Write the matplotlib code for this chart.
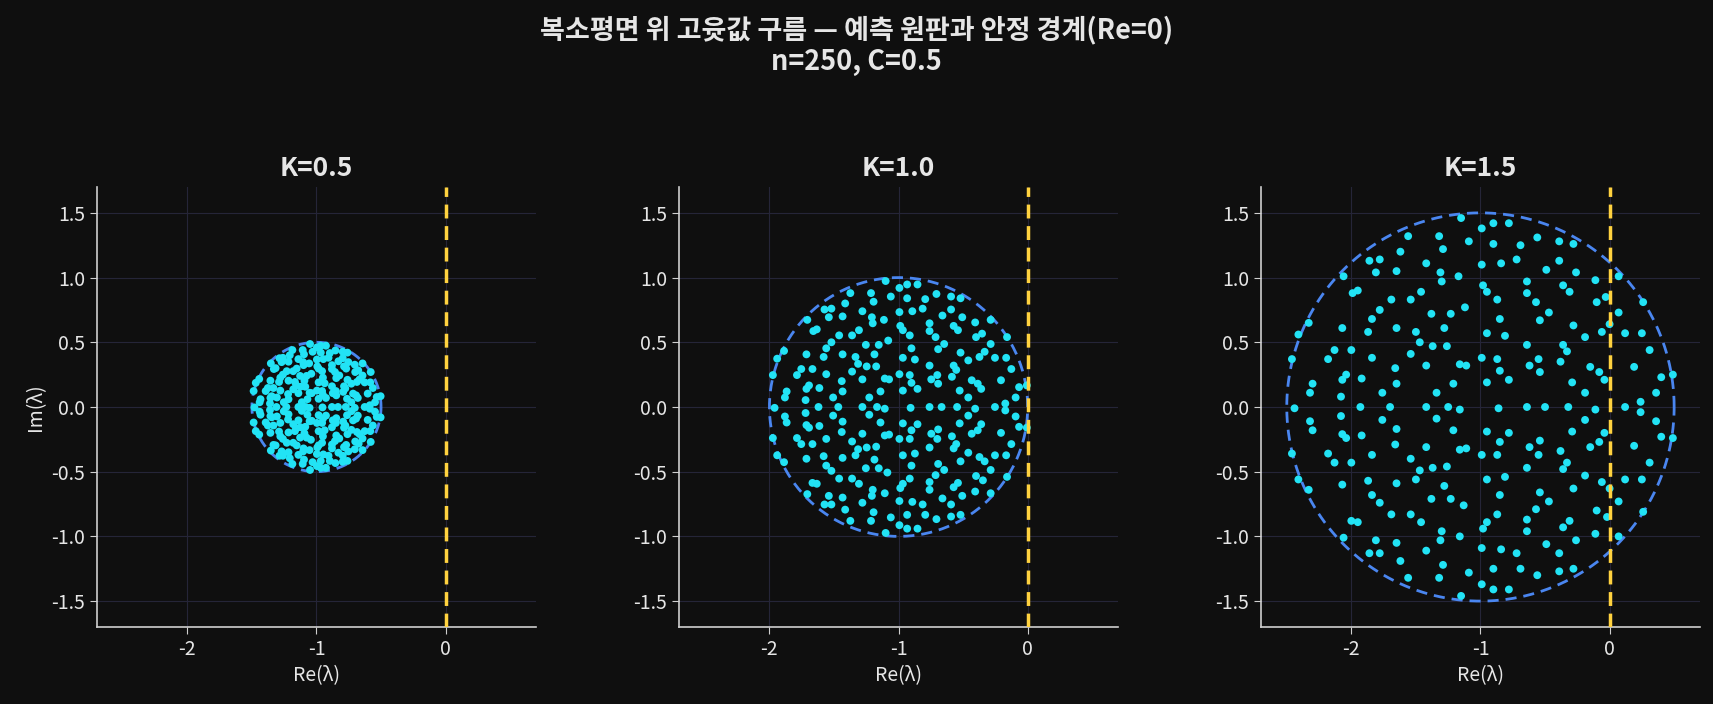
import numpy as np
import matplotlib
matplotlib.use("Agg")
import matplotlib.pyplot as plt

plt.rcParams['font.family'] = ['Noto Sans CJK KR', 'DejaVu Sans']
plt.rcParams['axes.unicode_minus'] = False

# Eigenvalues as read from the K=1.5 panel (same cloud, scaled by K around -1)
re_k15 = [
 -1.15,-1.56,-1.32,-1.09,-1.29,-1.62,-1.86,-1.78,-1.42,-1.81,-1.65,-2.06,-1.31,-1.17,-1.30,-1.99,-1.95,-1.46,
 -1.69,-1.54,-1.78,-1.12,-1.38,-1.23,-2.33,-1.84,-2.41,-2.07,-1.87,-1.65,-1.50,-1.28,-1.47,-1.37,-1.26,-2.13,
 -2.00,-2.46,-2.18,-1.84,-1.54,-1.66,-1.42,-1.16,-1.11,-2.04,-2.07,-1.92,-2.30,-2.32,-1.65,-1.21,-1.76,-1.34,-2.08,
 -0.90,-0.78,-0.99,-0.56,-0.39,-0.28,-0.90,-0.69,-0.99,-0.84,-0.72,-0.39,-0.49,-0.26,0.07,-0.11,-0.98,-0.95,
 -0.64,-0.64,-0.36,-0.31,-0.87,-0.57,-0.10,-0.03,0.26,-0.47,-0.54,-0.85,0.07,-0.28,0.00,-0.06,-0.95,-0.81,
 -0.19,0.12,0.25,-0.64,-0.36,-0.33,0.31,-0.99,-0.87,-0.55,-0.38,-0.62,-0.85,-0.54,-0.15,-0.08,0.19,-0.04,
 -0.95,-0.78,-0.29,0.40,0.49,0.36,-0.19,0.24,
 -2.44,-1.93,-1.70,-1.42,-1.25,-1.16,-2.08,-2.32,-1.76,-1.34,-2.30,-1.65,-1.21,-2.07,-2.04,-1.92,-1.66,-1.42,
 -1.16,-1.11,-2.46,-2.18,-1.84,-2.13,-2.00,-1.54,-1.47,-1.37,-1.26,-2.41,-2.33,-2.07,-1.87,-1.65,-1.50,-1.28,
 -1.84,-1.78,-1.38,-1.23,-1.13,-1.69,-1.54,-1.46,-2.00,-1.95,-2.06,-1.30,-1.16,-1.81,-1.65,-1.31,-1.86,-1.78,
 -1.42,-1.62,-1.29,-1.09,-1.56,-1.32,-1.15,
 -0.86,-0.64,-0.50,-0.32,-0.11,0.12,0.24,-0.19,0.36,-0.95,-0.78,-0.29,-0.85,-0.54,-0.62,-0.08,-0.15,-0.04,
 0.40,0.49,0.19,-0.99,-0.87,-0.55,-0.38,-0.33,-0.36,-0.64,0.31,-0.95,-0.81,-0.19,-0.06,0.00,0.12,0.25,-0.28,
 -0.85,-0.54,-0.47,0.07,-0.57,-0.87,-0.10,-0.02,0.26,-0.95,-0.98,-0.64,-0.31,-0.36,-0.64,-0.11,0.07,-0.99,
 -0.84,-0.72,-0.49,-0.39,-0.26,-0.90,-0.69,-0.56,-0.39,-0.28,-0.99,-0.90,-0.78]
im_k15 = [
 1.46,1.32,1.32,1.28,1.22,1.20,1.13,1.14,1.11,1.04,1.05,1.01,1.04,1.01,0.97,0.88,0.90,0.89,
 0.83,0.83,0.75,0.77,0.72,0.72,0.65,0.68,0.56,0.61,0.58,0.61,0.58,0.61,0.50,0.47,0.47,0.44,
 0.44,0.37,0.37,0.38,0.41,0.30,0.32,0.33,0.32,0.25,0.21,0.22,0.18,0.11,0.18,0.18,0.11,0.11,0.08,
 1.42,1.42,1.38,1.31,1.28,1.26,1.26,1.25,1.10,1.11,1.14,1.13,1.06,1.04,1.01,0.98,0.94,0.89,
 0.97,0.88,0.94,0.89,0.83,0.81,0.81,0.85,0.81,0.73,0.67,0.68,0.73,0.63,0.64,0.58,0.57,0.55,
 0.54,0.57,0.57,0.48,0.48,0.43,0.44,0.38,0.37,0.37,0.35,0.32,0.28,0.27,0.31,0.27,0.31,0.21,
 0.19,0.21,0.19,0.23,0.25,0.11,0.11,0.04,
 -0.01,0.00,0.00,0.00,0.00,-0.02,-0.07,-0.11,-0.10,-0.09,-0.18,-0.17,-0.18,-0.21,-0.24,-0.22,-0.29,-0.31,
 -0.33,-0.32,-0.36,-0.36,-0.37,-0.43,-0.43,-0.40,-0.49,-0.47,-0.46,-0.56,-0.64,-0.60,-0.57,-0.59,-0.56,-0.61,
 -0.68,-0.74,-0.71,-0.71,-0.76,-0.83,-0.83,-0.89,-0.88,-0.89,-1.01,-0.96,-1.00,-1.03,-1.05,-1.03,-1.13,-1.13,
 -1.11,-1.19,-1.22,-1.28,-1.32,-1.32,-1.46,
 -0.01,0.00,0.00,0.00,-0.02,0.00,-0.04,-0.10,-0.11,-0.19,-0.20,-0.19,-0.27,-0.26,-0.31,-0.27,-0.31,-0.20,
 -0.23,-0.24,-0.30,-0.37,-0.37,-0.37,-0.34,-0.43,-0.48,-0.47,-0.43,-0.56,-0.54,-0.53,-0.58,-0.63,-0.56,-0.56,-0.63,
 -0.68,-0.66,-0.73,-0.73,-0.79,-0.83,-0.80,-0.85,-0.81,-0.89,-0.94,-0.87,-0.88,-0.93,-0.96,-0.98,-1.00,-1.09,
 -1.10,-1.13,-1.06,-1.13,-1.03,-1.25,-1.25,-1.30,-1.27,-1.25,-1.37,-1.41,-1.41]

K_values = [0.5, 1.0, 1.5]
center = -1.0
K_ref = 1.5

BG = '#0f0f0f'
TXT = '#e6e6e6'
fig = plt.figure(figsize=(17.13, 7.04), dpi=100, facecolor=BG)

re_arr = np.array(re_k15)
im_arr = np.array(im_k15)
lefts = [0.0566, 0.3964, 0.7361]
for i, K in enumerate(K_values):
    ax = fig.add_axes([lefts[i], 0.1094, 0.2563, 0.625], facecolor=BG)
    s = K / K_ref
    ax.scatter(center + (re_arr - center) * s, im_arr * s, s=32, color='#22e3f5',
               edgecolors='none', zorder=3)
    t = np.linspace(0, 2 * np.pi, 400)
    ax.plot(center + K * np.cos(t), K * np.sin(t), ls=(0, (4, 2.5)), color='#4a86f0', lw=2, zorder=2)
    ax.axvline(0, color='#ffd23f', ls=(0, (4, 2.2)), lw=2.5, zorder=4)
    ax.set_xlim(-2.7, 0.7)
    ax.set_ylim(-1.7, 1.7)
    ax.set_xticks([-2, -1, 0])
    ax.set_yticks([-1.5, -1.0, -0.5, 0.0, 0.5, 1.0, 1.5])
    ax.set_yticklabels(['-1.5', '-1.0', '-0.5', '0.0', '0.5', '1.0', '1.5'])
    ax.grid(True, color='#252538', lw=0.8, zorder=0)
    for sp in ['top', 'right']:
        ax.spines[sp].set_visible(False)
    for sp in ['left', 'bottom']:
        ax.spines[sp].set_color('#cfcfcf')
        ax.spines[sp].set_linewidth(1.2)
    ax.tick_params(colors='#cfcfcf', labelcolor=TXT, labelsize=14, length=5)
    ax.set_xlabel('Re(λ)', color=TXT, fontsize=14)
    if i == 0:
        ax.set_ylabel('Im(λ)', color=TXT, fontsize=14)
    ax.set_title(f'K={K}', color=TXT, fontsize=19, fontweight='bold', pad=8)

fig.text(0.5, 0.978, '복소평면 위 고윳값 구름 — 예측 원판과 안정 경계(Re=0)\nn=250, C=0.5',
         ha='center', va='top', color=TXT, fontsize=19.5, fontweight='bold', linespacing=1.15)

fig.savefig('out.png', dpi=100, facecolor=BG)
